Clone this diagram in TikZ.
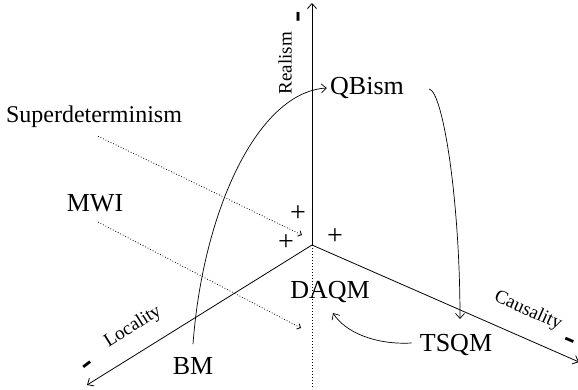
\documentclass[tikz,border=0pt]{standalone}
\usepackage{fontspec}
\setmainfont{Liberation Serif}
\usetikzlibrary{arrows.meta,calc}

\begin{document}
\begin{tikzpicture}[x=1pt,y=-1pt,line width=.7pt,
  lbl/.style={inner sep=3pt,font=\fontsize{26}{30}\selectfont},
  axlbl/.style={inner sep=1pt,font=\fontsize{19}{22}\selectfont},
  sgn/.style={inner sep=0pt,font=\fontsize{28}{32}\selectfont},
  minus/.style={inner sep=0pt,font=\fontsize{34}{38}\selectfont\bfseries},
  tip/.style={-{Straight Barb[length=5pt,width=9pt]}},
  hint/.style={dotted,line width=.8pt,-{Straight Barb[length=3pt,width=6pt]}}]
\path[use as bounding box] (0,0) rectangle (578,389);
\coordinate (o) at (312,245);
\coordinate (realtop) at (312,3);
\coordinate (locend) at (87,385);
\coordinate (causend) at (579,362);
\coordinate (below) at (312,389);
\draw[tip,line width=.8pt] (o) -- (realtop);
\draw[tip,line width=.8pt] (o) -- (locend);
\draw[tip,line width=.8pt] (o) -- (causend);
\draw[dotted,line width=1pt] (o) -- (below);
\node[axlbl,rotate=90] (realism) at (285,63) {Realism};
\node[axlbl,rotate=32] (locality) at (133,327) {Locality};
\node[axlbl,rotate=-24] (causality) at (528,311) {Causality};
\node[minus,rotate=90] (mreal) at (302,17) {-};
\node[minus,rotate=37] (mloc) at (89,367) {-};
\node[minus,rotate=-23] (mcaus) at (569,343) {-};
\node[sgn] (preal) at (298,214) {+};
\node[sgn] (ploc) at (286,243) {+};
\node[sgn] (pcaus) at (335,237) {+};
\node[lbl] (qbism) at (367,88) {QBism};
\node[lbl,font=\fontsize{24}{28}\selectfont] (superdet) at (94,117) {Superdeterminism};
\node[lbl] (mwi) at (95,203) {MWI};
\node[lbl] (bm) at (193,366) {BM};
\node[lbl] (daqm) at (330,292) {DAQM};
\node[lbl] (tsqm) at (456,345) {TSQM};
\coordinate (sdend) at (302,235);
\coordinate (mwiend) at (301,328);
\draw[hint] ($(superdet.south)+(4,5)$) -- (sdend);
\draw[hint] ($(mwi.south)+(3,7)$) -- (mwiend);
\draw[tip] ($(bm.north)+(0,-10)$) .. controls (203,210) and (258,92) .. (qbism.west);
\draw[tip] ($(qbism.east)+(22,1)$) .. controls (443,92) and (460,200) .. ($(tsqm.north)+(4,-12)$);
\draw[tip] ($(tsqm.west)+(-5,-2)$) .. controls (375,345) and (345,332) .. ($(daqm.south)+(3,7)$);
\end{tikzpicture}
\end{document}
